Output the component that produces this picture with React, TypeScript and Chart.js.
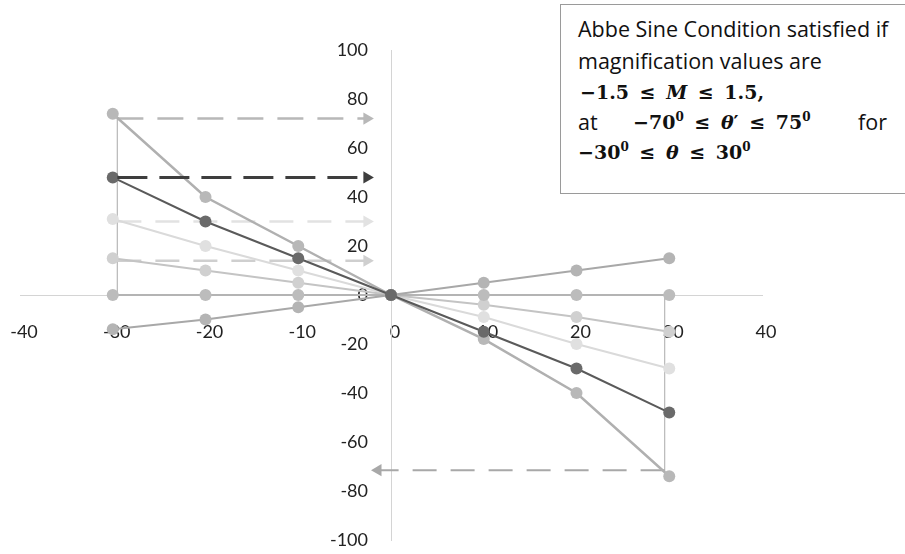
import React, { useEffect, useRef } from "react";
import { Chart, registerables } from "chart.js";

Chart.register(...registerables);

// Incidence angle θ (degrees)
const thetaIn = [-30, -20, -10, 0, 10, 20, 30];
// Emergent angle θ' for several magnifications
const seriesM15 = [74, 40, 20, 0, -18, -40, -74];
const seriesM10 = [48, 30, 15, 0, -15, -30, -48];
const seriesM06 = [31, 20, 10, 0, -9, -20, -30];
const seriesM03 = [15, 10, 5, 0, -4, -9, -15];
const seriesM00 = [0, 0, 0, 0, 0, 0, 0];
const seriesMneg = [-14, -10, -5, 0, 5, 10, 15];

// Guide arrows: [startX, endX], level
const guideX = [-29.5, -2.6];
const guideLevels = [72, 48, 30, 14];
const bottomGuideX = [29.5, -1.4];
const bottomGuideLevel = -71.5;
const verticalGuideLeft = { x: -29.5, y: [72, 0] };
const verticalGuideRight = { x: 29.5, y: [0, -72] };

const xMin = -40, xMax = 40, xStep = 10;
const yMin = -100, yMax = 100, yStep = 20;

const pts = (ys: number[]) => thetaIn.map((x, i) => ({ x, y: ys[i] }));

function seriesDs(ys: number[], line: string, fill: string, width: number) {
  return {
    data: pts(ys),
    showLine: true,
    borderColor: line,
    borderWidth: width,
    backgroundColor: fill,
    pointBackgroundColor: fill,
    pointBorderColor: fill,
    pointRadius: 6,
    pointBorderWidth: 0,
  };
}

function arrowDs(xs: number[], level: number, color: string, width: number, dash: number[], rot: number) {
  return {
    data: xs.map((x) => ({ x, y: level })),
    showLine: true,
    borderColor: color,
    borderWidth: width,
    borderDash: dash,
    pointStyle: ["circle", "triangle"],
    pointRotation: [0, rot],
    pointRadius: [0, 7],
    pointBackgroundColor: color,
    pointBorderColor: color,
    pointBorderWidth: 0,
  };
}

function vlineDs(x: number, ys: number[], color: string) {
  return {
    data: ys.map((y) => ({ x, y })),
    showLine: true,
    borderColor: color,
    borderWidth: 1,
    pointRadius: 0,
  };
}

const zeroFit = (horizontal: boolean) => (s: any) => {
  if (horizontal) s.height = 0;
  else s.width = 0;
  s.paddingLeft = 0;
  s.paddingRight = 0;
  s.paddingTop = 0;
  s.paddingBottom = 0;
};

export default function App() {
  const ref = useRef<HTMLCanvasElement>(null);
  useEffect(() => {
    if (!ref.current) return;
    const tickFont = { family: "Lato", size: 18 };
    const chart = new Chart(ref.current, {
      type: "scatter",
      data: {
        datasets: [
          arrowDs(guideX, guideLevels[1], "#3e3e3e", 3, [30, 12], 90),
          seriesDs(seriesM10, "#5a5a5a", "#6a6a6a", 2),
          seriesDs(seriesM15, "#b0b0b0", "#b8b8b8", 2.5),
          seriesDs(seriesMneg, "#a8a8a8", "#b4b4b4", 2),
          seriesDs(seriesM00, "#b4b4b4", "#bcbcbc", 2),
          seriesDs(seriesM03, "#c4c4c4", "#d0d0d0", 2),
          seriesDs(seriesM06, "#dadada", "#e0e0e0", 2),
          arrowDs(guideX, guideLevels[0], "#b8b8b8", 2.5, [26, 14], 90),
          arrowDs(guideX, guideLevels[2], "#e2e2e2", 2.5, [24, 14], 90),
          arrowDs(guideX, guideLevels[3], "#cfcfcf", 2.5, [24, 14], 90),
          arrowDs(bottomGuideX, bottomGuideLevel, "#a8a8a8", 2, [24, 14], 270),
          vlineDs(verticalGuideLeft.x, verticalGuideLeft.y, "#bdbdbd"),
          vlineDs(verticalGuideRight.x, verticalGuideRight.y, "#bdbdbd"),
        ] as any,
      },
      options: {
        animation: false,
        responsive: false,
        maintainAspectRatio: false,
        devicePixelRatio: 1,
        layout: { padding: { left: 20, right: 143, top: 50, bottom: 14 } },
        plugins: { legend: { display: false }, tooltip: { enabled: false } },
        scales: {
          x: {
            type: "linear",
            min: xMin,
            max: xMax,
            position: { y: 0 } as any,
            grid: { display: false, drawTicks: false },
            border: { display: true, color: "#d4d4d4", width: 1 },
            ticks: { stepSize: xStep, padding: 26, labelOffset: 4, font: tickFont, color: "#222", autoSkip: false, maxRotation: 0 },
            afterFit: zeroFit(true),
          },
          y: {
            type: "linear",
            min: yMin,
            max: yMax,
            position: { x: 0 } as any,
            grid: { display: false, drawTicks: false },
            border: { display: true, color: "#d4d4d4", width: 1 },
            ticks: {
              stepSize: yStep,
              font: tickFont,
              color: "#222",
              autoSkip: false,
              callback: (v: any) => String(v) + "     ",
            },
            afterFit: zeroFit(false),
          },
        },
      } as any,
    });
    return () => chart.destroy();
  }, []);

  const sans = "'Open Sans', Lato, sans-serif";
  const serif = "'DejaVu Serif', 'Liberation Serif', serif";
  const mathStyle: React.CSSProperties = { fontFamily: serif, fontWeight: 700, fontSize: 19 };
  const sup: React.CSSProperties = { fontSize: 12, verticalAlign: "8px", lineHeight: 0 };
  const rel: React.CSSProperties = { margin: "0 4px" };
  const lineBase: React.CSSProperties = { position: "absolute", whiteSpace: "nowrap", lineHeight: "24px" };

  return (
    <div style={{ position: "absolute", left: 0, top: 0, width: 905, height: 554, overflow: "hidden", background: "#fff" }}>
      <canvas ref={ref} width={905} height={554} style={{ display: "block", width: 905, height: 554 }} />
      <div
        style={{
          position: "absolute",
          left: 560,
          top: 4,
          width: 360,
          height: 188,
          borderLeft: "1px solid #9a9a9a",
          borderTop: "1px solid #9a9a9a",
          borderBottom: "1px solid #9a9a9a",
          background: "#fff",
          color: "#111",
          fontFamily: sans,
          fontSize: 21.5,
        }}
      >
        <div style={{ ...lineBase, left: 17, top: 12 }}>Abbe Sine Condition satisfied if</div>
        <div style={{ ...lineBase, left: 17, top: 44 }}>magnification values are</div>
        <div style={{ ...lineBase, left: 19, top: 75, ...mathStyle }}>
          −1.5 <span style={rel}>≤</span> <i>M</i> <span style={rel}>≤</span> 1.5,
        </div>
        <div style={{ ...lineBase, left: 17, top: 105 }}>at</div>
        <div style={{ ...lineBase, left: 72, top: 105, ...mathStyle }}>
          −70<span style={sup}>0</span> <span style={rel}>≤</span> <i>θ</i>′ <span style={rel}>≤</span> 75<span style={sup}>0</span>
        </div>
        <div style={{ ...lineBase, left: 297, top: 105 }}>for</div>
        <div style={{ ...lineBase, left: 17, top: 135, ...mathStyle }}>
          −30<span style={sup}>0</span> <span style={rel}>≤</span> <i>θ</i> <span style={rel}>≤</span> 30<span style={sup}>0</span>
        </div>
      </div>
    </div>
  );
}
